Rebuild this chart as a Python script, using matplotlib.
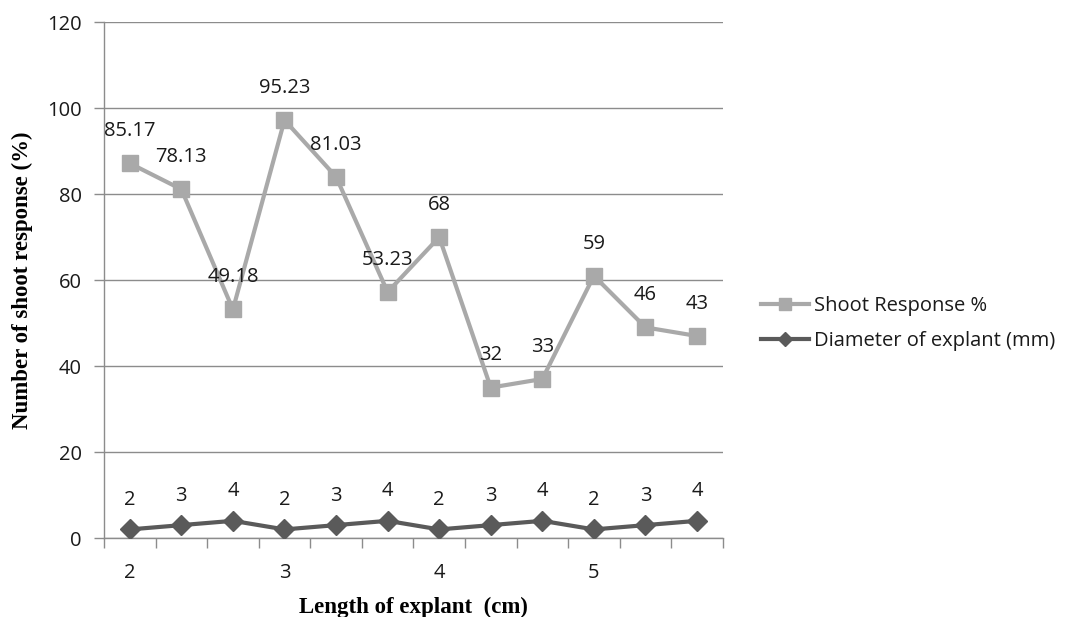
import numpy as np
import matplotlib.pyplot as plt
from matplotlib.ticker import FixedLocator, NullFormatter


# Data
length_labels = ["2", "3", "4", "5"]
shoot_response = [85.17, 78.13, 49.18, 95.23, 81.03, 53.23, 68, 32, 33, 59, 46, 43]
diameter = [2, 3, 4, 2, 3, 4, 2, 3, 4, 2, 3, 4]


def main():
    x = np.arange(len(diameter))
    # stacked line chart: shoot response sits on top of the diameter series
    shoot_stacked = np.array(shoot_response) + np.array(diameter)

    fig = plt.figure(figsize=(10.8, 6.17), dpi=100)
    ax = fig.add_axes([0.0963, 0.128, 0.573, 0.836])

    light = "#A9A9A9"
    dark = "#5A5A5A"
    tick_font = "Open Sans"
    fs = 14.5

    ax.plot(x, shoot_stacked, color=light, lw=3, marker="s", ms=12,
            label="Shoot Response %", zorder=3)
    ax.plot(x, diameter, color=dark, lw=3, marker="D", ms=10,
            label="Diameter of explant (mm)", zorder=3)

    # data labels
    for xi, yi, v in zip(x, shoot_stacked, shoot_response):
        ax.annotate(f"{v:g}", (xi, yi), xytext=(0, 16), textcoords="offset points",
                    ha="center", va="bottom", fontsize=fs, family=tick_font,
                    color="#1A1A1A")
    for xi, v in zip(x, diameter):
        ax.annotate(f"{v:g}", (xi, v), xytext=(0, 14), textcoords="offset points",
                    ha="center", va="bottom", fontsize=fs, family=tick_font,
                    color="#1A1A1A")

    # axes
    ax.set_xlim(-0.5, len(x) - 0.5)
    ax.set_ylim(0, 120)
    ax.set_yticks(np.arange(0, 121, 20))
    ax.yaxis.grid(True, color="#8C8C8C", lw=1)
    ax.set_axisbelow(True)

    ax.set_xticks(np.arange(0, len(x), 3))
    ax.set_xticklabels(length_labels)
    ax.xaxis.set_minor_locator(FixedLocator(np.arange(-0.5, len(x), 1)))
    ax.xaxis.set_minor_formatter(NullFormatter())
    ax.tick_params(axis="x", which="major", length=0, pad=18)
    ax.tick_params(axis="x", which="minor", length=7, color="#8C8C8C", width=1)
    ax.tick_params(axis="y", length=7, color="#8C8C8C", width=1, pad=9)
    for lab in ax.get_xticklabels() + ax.get_yticklabels():
        lab.set_fontfamily(tick_font)
        lab.set_fontsize(fs)
        lab.set_color("#1A1A1A")

    for side in ["top", "right"]:
        ax.spines[side].set_visible(False)
    for side in ["left", "bottom"]:
        ax.spines[side].set_color("#8C8C8C")
        ax.spines[side].set_linewidth(1)

    ax.set_xlabel("Length of explant  (cm)", family="Liberation Serif",
                  fontweight="bold", fontsize=16.5, labelpad=10)
    ax.set_ylabel("Number of shoot response (%)", family="Liberation Serif",
                  fontweight="bold", fontsize=16.5, labelpad=10)

    leg = fig.legend(loc="upper left", bbox_to_anchor=(0.688, 0.55), frameon=False,
                     prop={"family": tick_font, "size": fs}, handlelength=2.4,
                     handletextpad=0.2, labelspacing=0.75, markerscale=0.75)
    for t in leg.get_texts():
        t.set_color("#1A1A1A")

    plt.savefig("out.png", dpi=100)
    plt.close()


if __name__ == "__main__":
    main()
